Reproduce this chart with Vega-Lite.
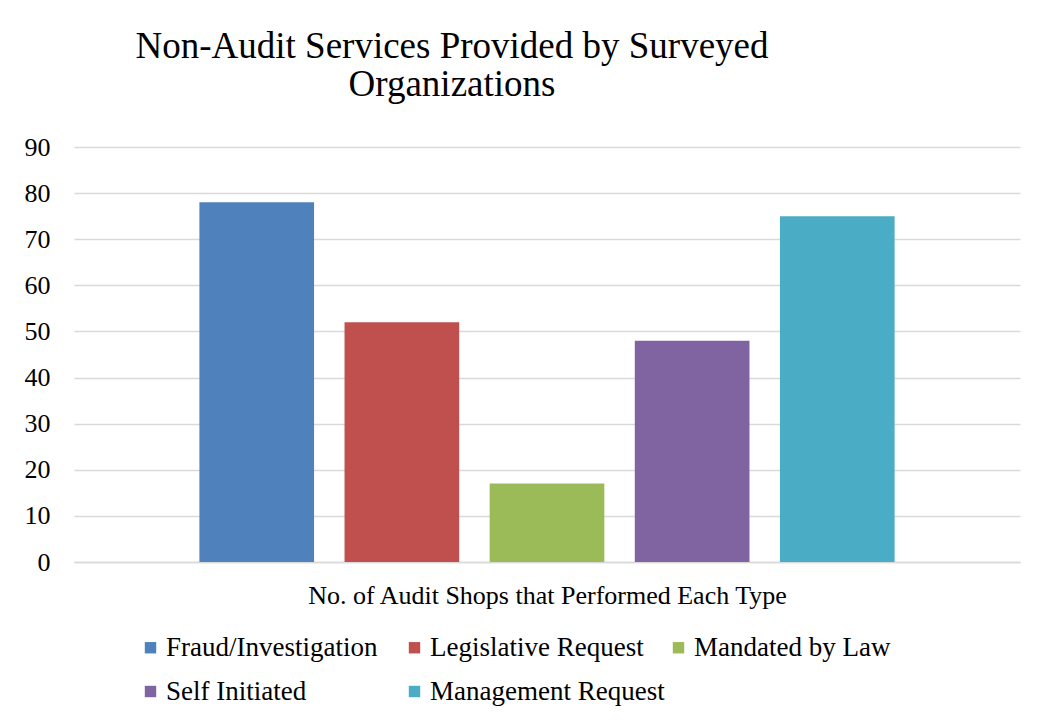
{
  "$schema": "https://vega.github.io/schema/vega-lite/v6.json",
  "width": 946,
  "height": 415,
  "autosize": {"type": "none"},
  "padding": {"left": 74, "top": 147, "right": 22, "bottom": 160},
  "background": "white",
  "title": {
    "text": ["Non-Audit Services Provided by Surveyed", "Organizations"],
    "font": "Liberation Serif",
    "fontSize": 37,
    "fontWeight": "normal",
    "color": "black",
    "lineHeight": 38,
    "anchor": "middle",
    "dx": -95,
    "offset": 30
  },
  "data": {
    "values": [
      {"type": "Fraud/Investigation", "count": 78},
      {"type": "Legislative Request", "count": 52},
      {"type": "Mandated by Law", "count": 17},
      {"type": "Self Initiated", "count": 48},
      {"type": "Management Request", "count": 75}
    ]
  },
  "mark": {"type": "bar"},
  "encoding": {
    "x": {
      "field": "type",
      "type": "nominal",
      "sort": null,
      "scale": {"paddingInner": 0.21, "paddingOuter": 0.864},
      "axis": {
        "title": "No. of Audit Shops that Performed Each Type",
        "labels": false,
        "ticks": false,
        "domain": true,
        "domainColor": "#d9d9d9",
        "domainWidth": 1.5,
        "titleFont": "Liberation Serif",
        "titleFontSize": 26,
        "titleFontWeight": "normal",
        "titleColor": "black",
        "titlePadding": 20
      }
    },
    "y": {
      "field": "count",
      "type": "quantitative",
      "scale": {"domain": [0, 90]},
      "axis": {
        "title": null,
        "values": [0, 10, 20, 30, 40, 50, 60, 70, 80, 90],
        "domain": false,
        "ticks": false,
        "grid": true,
        "gridColor": "#d9d9d9",
        "gridWidth": 1.5,
        "labelFont": "Liberation Serif",
        "labelFontSize": 26,
        "labelColor": "black",
        "labelPadding": 24
      }
    },
    "color": {
      "field": "type",
      "type": "nominal",
      "sort": null,
      "scale": {
        "domain": ["Fraud/Investigation", "Legislative Request", "Mandated by Law", "Self Initiated", "Management Request"],
        "range": ["#4F81BD", "#C0504D", "#9BBB59", "#8064A2", "#4BACC6"]
      },
      "legend": {
        "title": null,
        "orient": "none",
        "legendX": 63,
        "legendY": 487,
        "direction": "horizontal",
        "columns": 3,
        "gridAlign": "all",
        "symbolType": "square",
        "symbolSize": 130,
        "symbolStrokeWidth": 0,
        "labelFont": "Liberation Serif",
        "labelFontSize": 27,
        "labelColor": "black",
        "labelLimit": 400,
        "labelOffset": 2,
        "columnPadding": 0,
        "rowPadding": 16
      }
    }
  },
  "config": {
    "view": {"stroke": null}
  }
}
